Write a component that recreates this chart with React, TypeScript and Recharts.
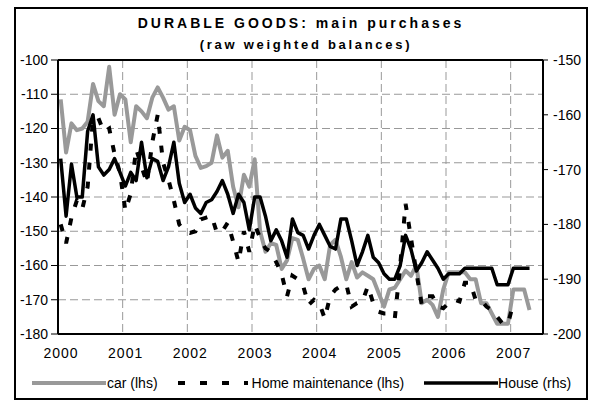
import React from "react";
import {
  ComposedChart,
  Line,
  XAxis,
  YAxis,
  CartesianGrid,
  ReferenceLine,
  Legend,
} from "recharts";

// monthly, Jan 2000 onwards
const car = [
  -111.5, -127, -118.5, -120.5, -120, -118, -107, -112, -113.5, -102,
  -116, -110, -111.5, -124, -113.5, -115, -117, -111, -108, -111,
  -114.5, -113.5, -123.5, -119.5, -120.5, -128, -131.5, -131, -130, -122,
  -128.5, -126.5, -137, -143, -133.5, -137, -129, -150, -156, -153.5,
  -154, -161, -158.5, -152, -152.5, -158, -164, -161, -160, -164,
  -154, -152.5, -157.5, -164, -159, -163.5, -162, -163, -164, -168,
  -172, -167, -166.5, -164, -161.5, -163, -160, -171, -170, -171.5,
  -175, -167, -162, -162, -162, -162, -164, -164, -171, -171,
  -174, -177, -177, -177, -167, -167, -167, -173,
];

const homeMaintenance = [
  -148, -153.5, -146, -141, -143.5, -137, -117, -117, -121, -120,
  -127.5, -133, -144, -139, -126, -131, -136, -124, -116, -130,
  -135, -141, -148, -150, -150.5, -150, -146.5, -146, -145.5, -150.5,
  -150, -147.5, -153, -159, -150, -156, -148, -152, -155, -156,
  -159, -162.5, -169, -163, -164, -166, -171.5, -170, -171, -175.5,
  -169, -167, -166, -165.5, -172, -171, -170.5, -166, -171, -173.5,
  -174, -174, -175.5, -160, -142, -152, -162, -171.5, -169, -169,
  -172, -172.5, -171, -170, -170.5, -165, -165, -170, -170, -172,
  -173, -175, -177, -177, -171,
];

const house = [
  -168, -178.5, -169, -175, -175, -163, -160, -169.5, -171, -170,
  -168, -170.5, -173, -170.5, -172, -165, -171.5, -168, -168.5, -172,
  -169.5, -165, -172.5, -176, -174.5, -177, -178, -176, -175.5, -174,
  -172, -174.5, -178, -174.5, -176, -181, -175, -175, -178.5, -183,
  -181, -183, -186, -179, -181.5, -182, -184.5, -182, -180, -182,
  -184, -184.5, -179, -179, -183, -187.5, -185, -182, -186, -187,
  -189, -190, -190, -187.5, -182, -184.5, -188.5, -187, -185, -186.5,
  -188, -190, -189, -189, -189, -188, -188, -188, -188, -188,
  -188, -191, -191, -191, -188, -188, -188, -188,
];

const yearTicks = [0, 12, 24, 36, 48, 60, 72, 84];
const lhsTicks = [-180, -170, -160, -150, -140, -130, -120, -110, -100];
const rhsTicks = [-200, -190, -180, -170, -160, -150];

const FONT = '"Liberation Sans", Arial, sans-serif';

// points sit in the middle of each month
const data = car.map((v, i) => ({
  x: i + 0.5,
  car: v,
  home: i < homeMaintenance.length ? homeMaintenance[i] : null,
  house: house[i],
}));

function LegendContent() {
  const txt: React.CSSProperties = { fontSize: 14, fontFamily: FONT, color: "#000" };
  return (
    <div style={{ display: "flex", alignItems: "center", height: 30, paddingLeft: 32 }}>
      <svg width={74} height={8}>
        <line x1={0} y1={4} x2={74} y2={4} stroke="#999" strokeWidth={4} />
      </svg>
      <span style={{ ...txt, marginLeft: 1 }}>car (lhs)</span>
      <svg width={70} height={8} style={{ marginLeft: 20 }}>
        <line x1={0} y1={4} x2={70} y2={4} stroke="#000" strokeWidth={4} strokeDasharray="7 15" />
      </svg>
      <span style={{ ...txt, marginLeft: 4 }}>Home maintenance (lhs)</span>
      <svg width={74} height={8} style={{ marginLeft: 20 }}>
        <line x1={0} y1={4} x2={74} y2={4} stroke="#000" strokeWidth={3.5} />
      </svg>
      <span style={txt}>House (rhs)</span>
    </div>
  );
}

export default function App() {
  const tick = { fontSize: 14, fontFamily: FONT, fill: "#000" };
  return (
    <div style={{ position: "absolute", left: 0, top: 0, width: 592, height: 401, background: "#fff" }}>
      <div
        style={{
          position: "absolute",
          left: 14,
          top: 7,
          width: 574,
          height: 393,
          border: "2px solid #000",
          boxSizing: "border-box",
        }}
      />
      <div
        style={{
          position: "absolute",
          left: 0,
          width: 602,
          top: 14,
          textAlign: "center",
          fontFamily: FONT,
          fontWeight: "bold",
          fontSize: 14,
          letterSpacing: 3,
          lineHeight: "18px",
        }}
      >
        DURABLE GOODS: main purchases
      </div>
      <div
        style={{
          position: "absolute",
          left: 0,
          width: 612,
          top: 36,
          textAlign: "center",
          fontFamily: FONT,
          fontWeight: "bold",
          fontSize: 13,
          letterSpacing: 2.7,
          lineHeight: "18px",
        }}
      >
        (raw weighted balances)
      </div>
      <ComposedChart
        width={592}
        height={401}
        data={data}
        margin={{ top: 60, right: 0, bottom: 12, left: 0 }}
        style={{ position: "absolute", left: 0, top: 0 }}
      >
        <CartesianGrid
          yAxisId="lhs"
          stroke="#999"
          strokeDasharray="8 4"
          strokeWidth={1}
        />
        <XAxis
          dataKey="x"
          type="number"
          domain={[0, 90]}
          ticks={yearTicks}
          tickFormatter={(v: number) => String(2000 + v / 12)}
          tick={{ ...tick, letterSpacing: 1 }}
          tickLine={false}
          tickMargin={8}
          dx={3}
          height={25}
          axisLine={{ stroke: "#000", strokeWidth: 2 }}
          allowDataOverflow
        />
        <YAxis
          yAxisId="lhs"
          orientation="left"
          domain={[-180, -100]}
          ticks={lhsTicks}
          width={58}
          tick={tick}
          tickSize={7}
          tickMargin={3}
          tickLine={{ stroke: "#000" }}
          axisLine={{ stroke: "#000", strokeWidth: 2 }}
          interval={0}
        />
        <YAxis
          yAxisId="rhs"
          orientation="right"
          domain={[-200, -150]}
          ticks={rhsTicks}
          width={49}
          tick={tick}
          tickSize={5}
          tickMargin={5}
          tickLine={{ stroke: "#000" }}
          axisLine={{ stroke: "#000", strokeWidth: 2 }}
          interval={0}
        />
        <ReferenceLine yAxisId="lhs" y={-100} stroke="#000" strokeWidth={2} />
        <Line
          yAxisId="lhs"
          dataKey="car"
          type="linear"
          stroke="#999"
          strokeWidth={4}
          dot={false}
          isAnimationActive={false}
          strokeLinejoin="round"
        />
        <Line
          yAxisId="lhs"
          dataKey="home"
          type="linear"
          stroke="#000"
          strokeWidth={4}
          strokeDasharray="7 12"
          dot={false}
          isAnimationActive={false}
        />
        <Line
          yAxisId="rhs"
          dataKey="house"
          type="linear"
          stroke="#000"
          strokeWidth={3.5}
          dot={false}
          isAnimationActive={false}
          strokeLinejoin="round"
        />
        <Legend
          verticalAlign="bottom"
          height={30}
          content={<LegendContent />}
          wrapperStyle={{ left: 0, width: 592, bottom: 3 }}
        />
      </ComposedChart>
    </div>
  );
}
